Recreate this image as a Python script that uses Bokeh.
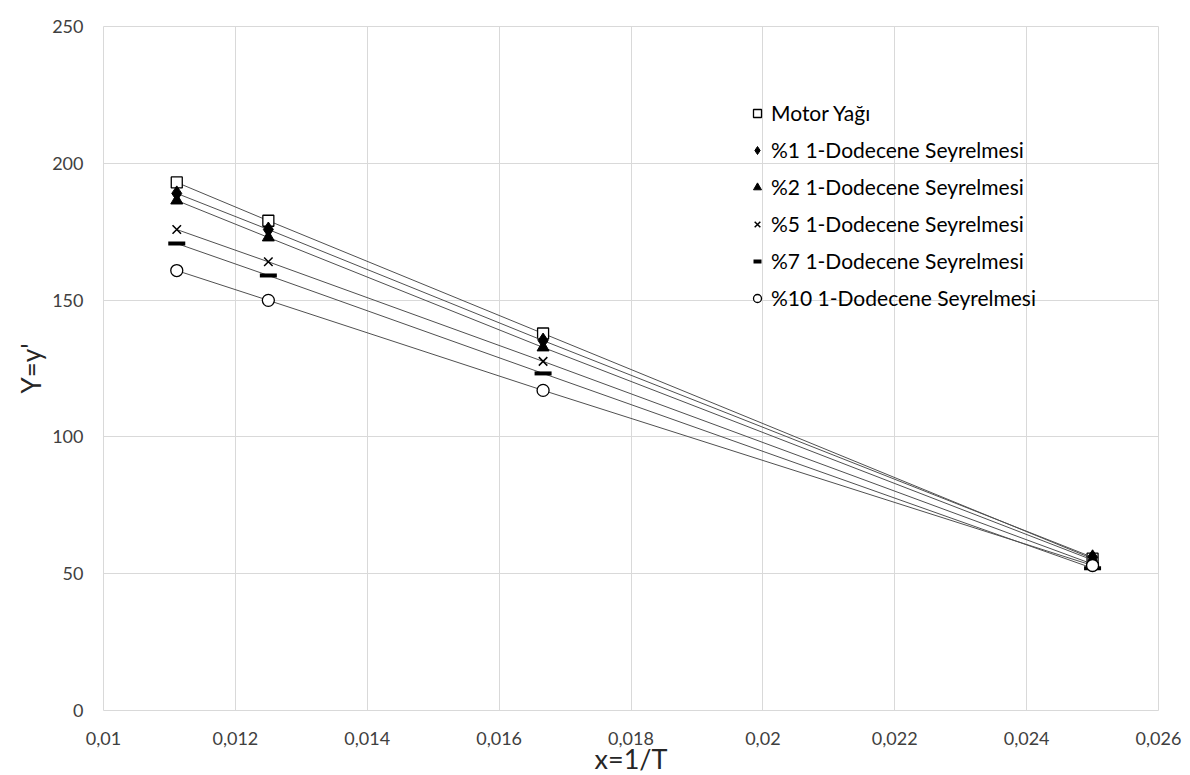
from bokeh.plotting import figure
from bokeh.models import FixedTicker, CustomJSTickFormatter, Legend, LegendItem, Range1d
from bokeh.embed import file_html
from bokeh.resources import INLINE

# Data
x_vals = [1/90, 1/80, 1/60, 1/40]
series_names = ["Motor Yağı", "%1 1-Dodecene Seyrelmesi", "%2 1-Dodecene Seyrelmesi",
                "%5 1-Dodecene Seyrelmesi", "%7 1-Dodecene Seyrelmesi", "%10 1-Dodecene Seyrelmesi"]
motor = [193.0, 179.0, 137.8, 55.5]
d1 = [189.0, 175.8, 135.2, 56.0]
d2 = [186.4, 172.9, 132.7, 55.0]
d5 = [175.8, 164.0, 127.6, 53.5]
d7 = [170.7, 159.0, 123.2, 52.0]
d10 = [160.8, 149.9, 117.0, 53.0]
x_ticks = [0.01, 0.012, 0.014, 0.016, 0.018, 0.02, 0.022, 0.024, 0.026]
y_ticks = [0, 50, 100, 150, 200, 250]

series = [motor, d1, d2, d5, d7, d10]
markers = [
    dict(marker="square", size=11, fill_color="white", line_color="black", line_width=1.3),
    dict(marker="diamond", size=15, fill_color="black", line_color="black", line_width=1),
    dict(marker="triangle", size=12, fill_color="black", line_color="black", line_width=1),
    dict(marker="x", size=12, fill_color=None, line_color="black", line_width=1.5),
    dict(marker="dash", size=17, fill_color=None, line_color="black", line_width=4),
    dict(marker="circle", size=12, fill_color="white", line_color="black", line_width=1.3),
]

FONT = "Lato"
GRID = "#d9d9d9"
TXT = "#404040"

p = figure(frame_width=1055, frame_height=684, output_backend="svg", toolbar_location=None,
           x_range=Range1d(0.01, 0.026), y_range=Range1d(0, 250),
           min_border_left=103, min_border_right=32, min_border_top=26, min_border_bottom=65)

items = []
for name, ys, mk in zip(series_names, series, markers):
    p.line(x_vals, ys, line_color="#505050", line_width=1)
    r = p.scatter(x_vals, ys, **mk)
    items.append(LegendItem(label=name, renderers=[r]))

legend = Legend(items=items, location=(644, 400), border_line_color=None,
                background_fill_alpha=0, label_text_font=FONT, label_text_font_size="21px",
                label_text_color="black", glyph_width=20, glyph_height=20, label_height=20,
                spacing=12, padding=0, margin=0, label_standoff=4)
p.add_layout(legend, "center")

p.xaxis.ticker = FixedTicker(ticks=x_ticks)
p.yaxis.ticker = FixedTicker(ticks=y_ticks)
p.xaxis.formatter = CustomJSTickFormatter(code="return (Math.round(tick*1000)/1000).toString().replace('.', ',');")
for ax in (p.xaxis, p.yaxis):
    ax.axis_line_color = None
    ax.major_tick_line_color = None
    ax.minor_tick_line_color = None
    ax.major_label_text_font = FONT
    ax.major_label_text_font_size = "18px"
    ax.major_label_text_color = TXT
    ax.axis_label_text_font = FONT
    ax.axis_label_text_font_size = "27px"
    ax.axis_label_text_font_style = "normal"
    ax.axis_label_text_color = "#262626"
p.yaxis.axis_label_text_font_size = "26px"
p.xaxis.major_label_standoff = 15
p.yaxis.major_label_standoff = 14
p.xaxis.axis_label = "x=1/T"
p.yaxis.axis_label = "Y=y'"
p.xaxis.axis_label_standoff = -6
p.yaxis.axis_label_standoff = 2

p.xgrid.grid_line_color = GRID
p.ygrid.grid_line_color = GRID
p.outline_line_color = GRID
p.outline_line_width = 1

open("out.html", "w").write(file_html(p, INLINE))
